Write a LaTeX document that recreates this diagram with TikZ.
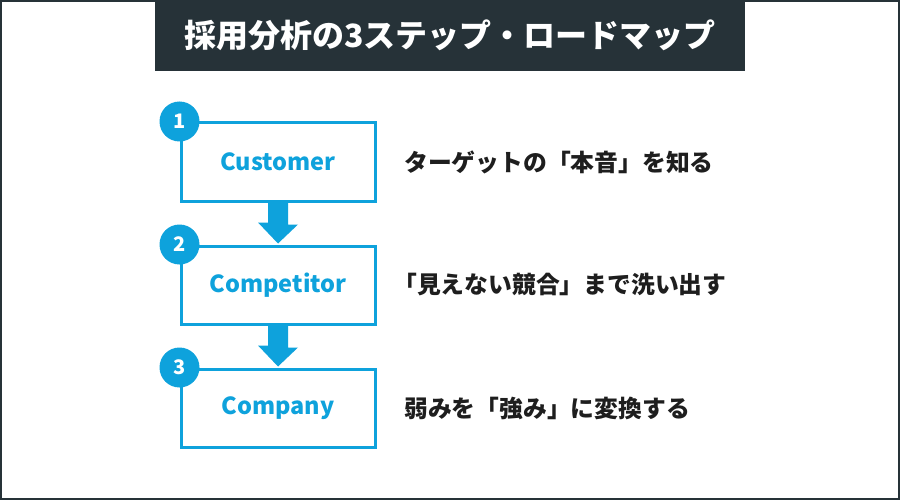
\documentclass[tikz,border=0pt]{standalone}
\usepackage{fontspec}
\usetikzlibrary{calc}
\setmainfont{Noto Sans CJK JP}
\definecolor{dark}{HTML}{263238}
\definecolor{blu}{HTML}{0EA2DC}
\definecolor{txt}{HTML}{1E1E1E}
\begin{document}
\begin{tikzpicture}[x=1pt,y=-1pt,
  stepbox/.style={draw=blu,line width=3pt,fill=white,minimum width=194pt,minimum height=78pt,inner sep=0pt,text=blu,font=\fontsize{23.5}{26}\selectfont\bfseries},
  numc/.style={circle,fill=blu,minimum size=40pt,inner sep=0pt,text=white,font=\fontsize{20}{22}\selectfont\bfseries},
  desc/.style={anchor=west,inner sep=0pt,text=txt,font=\fontsize{23.8}{26}\selectfont\bfseries},
  arr/.style={fill=blu,draw=none}]
\useasboundingbox (0,0) rectangle (900,500);
\fill[white] (0,0) rectangle (900,500);
\draw[dark,line width=2pt] (1,1) rectangle (899,499);
\node[fill=dark,minimum width=590pt,minimum height=71pt,inner sep=0pt,text=white,font=\fontsize{32}{36}\selectfont\bfseries] (title) at (450,35.5) {採用分析の3ステップ・ロードマップ};
\node[stepbox] (b1) at (278,162) {Customer};
\node[stepbox] (b2) at (278,285) {Competitor};
\node[stepbox] (b3) at (278,408) {Company};
% arrows
\fill[arr] ($(b1.south)+(-10,0)$) -- ++(20,0) -- ++(0,22) -- ++(10,0) -- ($(b2.north)+(0,-1)$) -- ++(-20,-21) -- ++(10,0) -- cycle;
\fill[arr] ($(b2.south)+(-10,0)$) -- ++(20,0) -- ++(0,22) -- ++(10,0) -- ($(b3.north)+(0,-1)$) -- ++(-20,-21) -- ++(10,0) -- cycle;
\node[numc] (n1) at (b1.north west) {1};
\node[numc] (n2) at (b2.north west) {2};
\node[numc] (n3) at (b3.north west) {3};
\node[desc] (d1) at (404,162) {ターゲットの「本音」を知る};
\node[desc] (d2) at (393,285) {「見えない競合」まで洗い出す};
\node[desc] (d3) at (404,408) {弱みを「強み」に変換する};
\end{tikzpicture}
\end{document}
